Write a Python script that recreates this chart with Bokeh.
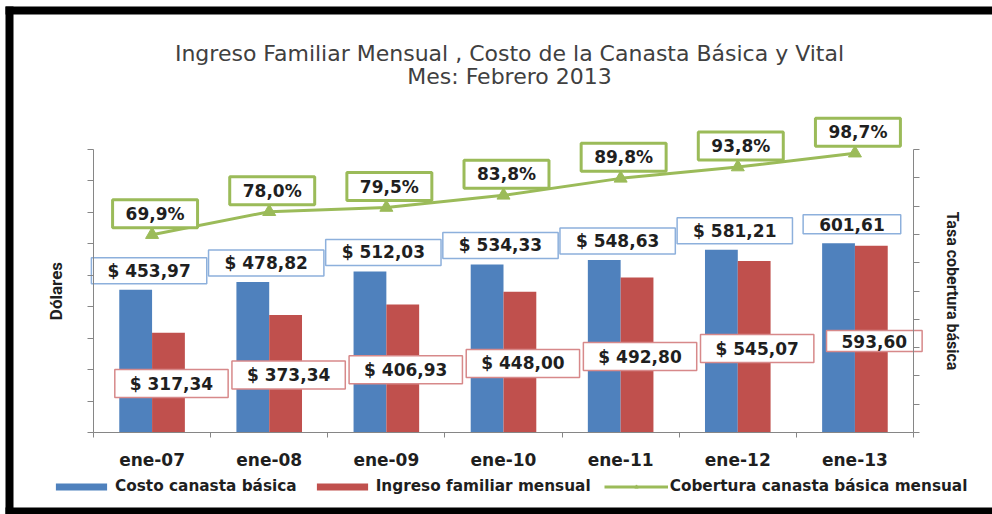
from bokeh.plotting import figure
from bokeh.models import (Range1d, LinearAxis, FixedTicker, ColumnDataSource, Label,
                          Legend, LegendItem, BoxAnnotation, CustomJSTickFormatter)
from bokeh.core.properties import value
from bokeh.embed import file_html
from bokeh.resources import INLINE

# ---------------- data ----------------
months = ["ene-07", "ene-08", "ene-09", "ene-10", "ene-11", "ene-12", "ene-13"]
costo = [453.97, 478.82, 512.03, 534.33, 548.63, 581.21, 601.61]
ingreso = [317.34, 373.34, 406.93, 448.00, 492.80, 545.07, 593.60]
cobertura = [69.9, 78.0, 79.5, 83.8, 89.8, 93.8, 98.7]
usd_ticks = list(range(0, 901, 100))
pct_ticks = list(range(0, 101, 10))

title1 = "Ingreso Familiar Mensual , Costo de la Canasta Básica y Vital"
title2 = "Mes: Febrero 2013"
left_label = "Dólares"
right_label = "Tasa cobertura básica"
legend_labels = ["Costo canasta básica", "Ingreso familiar mensual",
                 "Cobertura canasta básica mensual"]

BLUE, RED, GREEN = "#4F81BD", "#C0504D", "#9BBB59"
AXIS = "#868686"
TXT = "#1F1F1F"


def money(v, prefix):
    return prefix + f"{v:.2f}".replace(".", ",")


n = len(months)
xc = [i + 0.5 for i in range(n)]
bw = 0.28
xb = [x - bw / 2 for x in xc]
xr = [x + bw / 2 for x in xc]
lab_costo = [money(v, "$ " if i < n - 1 else "") for i, v in enumerate(costo)]
lab_ingreso = [money(v, "$ " if i < n - 1 else "") for i, v in enumerate(ingreso)]
lab_cob = [f"{v:.1f}".replace(".", ",") + "%" for v in cobertura]
ingreso_lab_y = [v * 0.49 for v in ingreso]

src = ColumnDataSource(dict(xc=xc, xb=xb, xr=xr, costo=costo, ingreso=ingreso,
                            cob=cobertura, lab_costo=lab_costo, lab_ingreso=lab_ingreso,
                            lab_cob=lab_cob, ing_y=ingreso_lab_y))

# ---------------- geometry (pixels) ----------------
W, H = 992, 514                 # canvas
PL, PT, PW, PH = 93, 149, 820, 283   # plotting area inside the canvas
PB = H - PT - PH
PR = W - PL - PW
USD_MAX, PCT_MAX = 900, 100
ppx = PW / n
ppy = PH / USD_MAX
ppp = PH / PCT_MAX

p = figure(width=W, height=H,
           x_range=Range1d(-PL / ppx, n + PR / ppx),
           y_range=Range1d(-PB / ppy, USD_MAX + PT / ppy),
           output_backend="svg", toolbar_location=None,
           x_axis_location=None, y_axis_location=None,
           min_border=0, min_border_left=0, min_border_right=0,
           min_border_top=0, min_border_bottom=0)
p.extra_y_ranges = {"pct": Range1d(-PB / ppp, PCT_MAX + PT / ppp)}
p.outline_line_color = None
p.background_fill_color = "white"
p.border_fill_color = "white"
p.grid.visible = False

blank = CustomJSTickFormatter(code="return ''")

# axes (pinned at the plotting-area edges)
xaxis = LinearAxis(ticker=FixedTicker(ticks=xc, minor_ticks=list(range(n + 1))),
                   major_label_overrides={x: m for x, m in zip(xc, months)},
                   fixed_location=0, bounds=(0, n))
xaxis.major_tick_out = 0
xaxis.major_tick_in = 0
xaxis.minor_tick_out = 5
xaxis.minor_tick_in = 0
xaxis.minor_tick_line_color = AXIS
xaxis.axis_line_color = AXIS
xaxis.major_label_standoff = 12
xaxis.major_label_text_font = "DejaVu Sans"
xaxis.major_label_text_font_style = "bold"
xaxis.major_label_text_font_size = "17px"
xaxis.major_label_text_color = TXT
p.add_layout(xaxis, "below")

yaxis = LinearAxis(ticker=FixedTicker(ticks=usd_ticks), axis_label=left_label, formatter=blank,
                   fixed_location=0, bounds=(0, USD_MAX))
yaxis.major_tick_out = 6
yaxis.major_tick_in = 0
yaxis.major_tick_line_color = AXIS
yaxis.axis_line_color = AXIS
yaxis.axis_label_text_font = "Roboto"
yaxis.axis_label_text_font_style = "bold"
yaxis.axis_label_text_font_size = "17px"
yaxis.axis_label_text_color = TXT
yaxis.axis_label_standoff = 22
p.add_layout(yaxis, "left")

raxis = LinearAxis(y_range_name="pct", ticker=FixedTicker(ticks=pct_ticks),
                   axis_label=right_label, formatter=blank,
                   fixed_location=n, bounds=(0, PCT_MAX))
raxis.major_tick_out = 6
raxis.major_tick_in = 0
raxis.major_tick_line_color = AXIS
raxis.axis_line_color = AXIS
raxis.axis_label_text_font = "Roboto"
raxis.axis_label_text_font_style = "bold"
raxis.axis_label_text_font_size = "16px"
raxis.axis_label_text_color = TXT
raxis.axis_label_standoff = 23
p.add_layout(raxis, "right")

# bars & line
rb = p.vbar(x="xb", top="costo", width=bw, bottom=0, source=src, fill_color=BLUE, line_color=None)
rr = p.vbar(x="xr", top="ingreso", width=bw, bottom=0, source=src, fill_color=RED, line_color=None)
rl = p.line(x="xc", y="cob", source=src, y_range_name="pct", line_color=GREEN, line_width=3)
rm = p.scatter(x="xc", y="cob", source=src, y_range_name="pct", marker="triangle", size=13,
               fill_color=GREEN, line_color=GREEN)

# data labels
common = dict(text_align="center", text_baseline="middle", text_font=value("DejaVu Sans"),
              text_font_style="bold", text_font_size="17px", text_color=TXT,
              background_fill_color="white")
p.text(x="xc", y="costo", text="lab_costo", source=src, x_offset=-3, y_offset=-19,
       border_line_color="#8DB0DC", border_line_width=1.5, padding=(16, 3), **common)
p.text(x="xr", y="ing_y", text="lab_ingreso", source=src, x_offset=3, y_offset=0,
       border_line_color="#D7898A", border_line_width=1.5, padding=(15, 4), **common)
p.text(x="xc", y="cob", text="lab_cob", source=src, y_range_name="pct", x_offset=3, y_offset=-21,
       border_line_color=GREEN, border_line_width=3, padding=(13, 4), **common)

# title (screen units from the canvas' bottom-left)
for t, yy in [(title1, H - 53), (title2, H - 76)]:
    p.add_layout(Label(x=509, y=yy, x_units="screen", y_units="screen", text=t,
                       text_align="center", text_baseline="middle", text_font="DejaVu Sans",
                       text_font_size="22px", text_color="#404040"))

# black frame bands
band = dict(fill_color="black", fill_alpha=1, line_color=None, line_alpha=0,
            left_units="screen", right_units="screen", top_units="screen", bottom_units="screen")
p.add_layout(BoxAnnotation(left=5, right=13, bottom=0, top=H - 6, **band))
p.add_layout(BoxAnnotation(left=5, right=W, bottom=H - 14, top=H - 6, **band))
p.add_layout(BoxAnnotation(left=5, right=W, bottom=0, top=7, **band))

# legend
legend = Legend(items=[LegendItem(label=legend_labels[0], renderers=[rb]),
                       LegendItem(label=legend_labels[1], renderers=[rr]),
                       LegendItem(label=legend_labels[2], renderers=[rl, rm])],
                orientation="horizontal", location=(49, 19))
legend.glyph_width = 64
legend.glyph_height = 9
legend.label_standoff = 2
legend.spacing = 13
legend.padding = 0
legend.margin = 0
legend.border_line_color = None
legend.background_fill_alpha = 0
legend.label_text_font = "DejaVu Sans"
legend.label_text_font_style = "bold"
legend.label_text_font_size = "15.3px"
legend.label_text_color = TXT
p.add_layout(legend, "center")

open("out.html", "w").write(file_html(p, INLINE))
